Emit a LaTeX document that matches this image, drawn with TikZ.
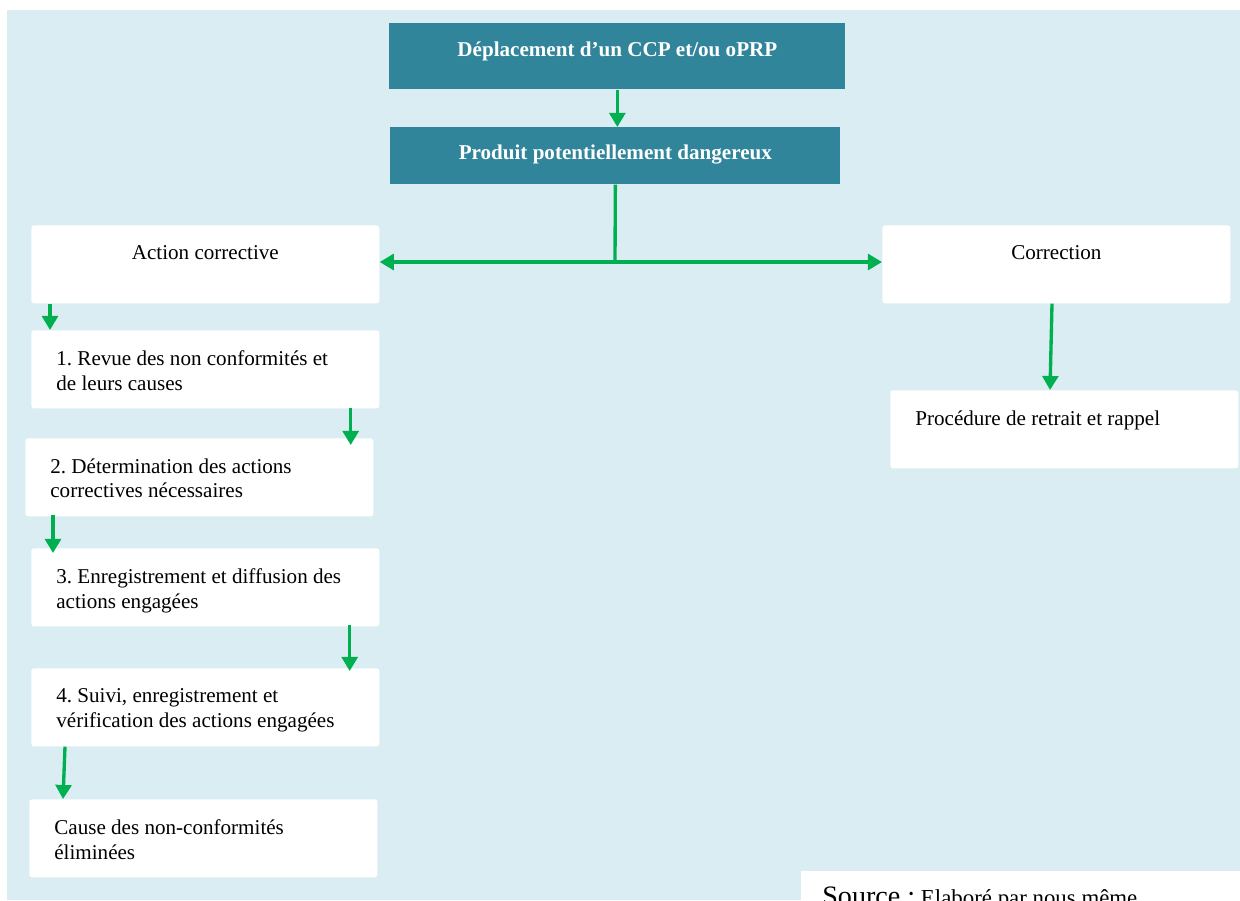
\documentclass[tikz,border=0pt]{standalone}
\usepackage{fontspec}
\setmainfont{Liberation Serif}
\usetikzlibrary{arrows.meta}
\definecolor{panelblue}{RGB}{218,237,243}
\definecolor{headteal}{RGB}{49,133,155}
\definecolor{flowgreen}{RGB}{0,176,80}
\frenchspacing
\newcommand{\inbox}[3]{\parbox[t][#2][t]{#1}{#3}}
\tikzset{
  stage/.style={fill=white, rounded corners=1.5pt, anchor=north west,
    inner xsep=0.5cm, inner ysep=0.4cm, font=\fontsize{12}{14.2}\selectfont},
  head/.style={fill=headteal, text=white, anchor=north west,
    inner xsep=0.5cm, inner ysep=0.36cm, font=\fontsize{12}{14.2}\selectfont\bfseries},
  flow/.style={draw=flowgreen, line width=1.9pt, -{Triangle[width=9pt,length=8pt]}}
}
\begin{document}
\begin{tikzpicture}
  \clip (0,0) rectangle (24.8,-18);
  \fill[panelblue] (0.14,-0.2) rectangle (24.8,-18);
  \node[head] (dep) at (7.78,-0.46) {\inbox{8.12cm}{0.6cm}{\centering Déplacement d’un CCP et/ou oPRP}};
  \node[head] (prod) at (7.8,-2.54) {\inbox{8cm}{0.42cm}{\centering Produit potentiellement dangereux}};
  \node[stage] (act) at (0.62,-4.5) {\inbox{5.96cm}{0.76cm}{\centering Action corrective}};
  \node[stage] (cor) at (17.64,-4.5) {\inbox{5.96cm}{0.76cm}{\centering Correction}};
  \node[stage] (proc) at (17.8,-7.8) {\inbox{5.96cm}{0.76cm}{\raggedright Procédure de retrait et rappel}};
  \node[stage] (rev) at (0.62,-6.6) {\inbox{5.96cm}{0.76cm}{\raggedright 1. Revue des non conformités et\\ de leurs causes}};
  \node[stage] (det) at (0.5,-8.76) {\inbox{5.96cm}{0.76cm}{\raggedright 2. Détermination des actions\\ correctives nécessaires}};
  \node[stage] (enr) at (0.62,-10.96) {\inbox{5.96cm}{0.76cm}{\raggedright 3. Enregistrement et diffusion des\\ actions engagées}};
  \node[stage] (suiv) at (0.62,-13.36) {\inbox{5.96cm}{0.76cm}{\raggedright 4. Suivi, enregistrement et\\ vérification des actions engagées}};
  \node[stage] (cause) at (0.58,-15.98) {\inbox{5.96cm}{0.76cm}{\raggedright Cause des non-conformités\\ éliminées}};
  \coordinate (split) at (12.3,-5.24);
  \begin{scope}[flow]
    \draw (dep.south) -- (dep.south |- prod.north);
    \draw[-] (prod.south) -- (split);
    \draw (split) -- (split -| act.east);
    \draw (split) -- (split -| cor.west);
    \draw ([xshift=0.38cm]act.south west) -- ([xshift=0.38cm]act.south west |- rev.north);
    \draw ([xshift=-0.58cm,yshift=0.02cm]rev.south east) -- ([xshift=-0.58cm,yshift=-0.14cm]rev.south east |- det.north);
    \draw ([xshift=0.56cm,yshift=0.04cm]det.south west) -- ([xshift=0.56cm,yshift=-0.1cm]det.south west |- enr.north);
    \draw ([xshift=-0.6cm,yshift=0.04cm]enr.south east) -- ([xshift=-0.6cm,yshift=-0.06cm]enr.south east |- suiv.north);
    \draw ([xshift=0.68cm]suiv.south west) -- ([xshift=0.68cm]cause.north west);
    \draw ([xshift=3.4cm]cor.south west) -- ([xshift=3.2cm]proc.north west);
  \end{scope}
  \fill[white] (16.02,-17.42) rectangle (24.8,-18);
  \node[anchor=base west, inner sep=0pt, font=\fontsize{13}{15}\selectfont] (src) at (16.44,-18.11) {{\fontsize{16}{18}\selectfont Source :} Elaboré par nous même};
\end{tikzpicture}
\end{document}
